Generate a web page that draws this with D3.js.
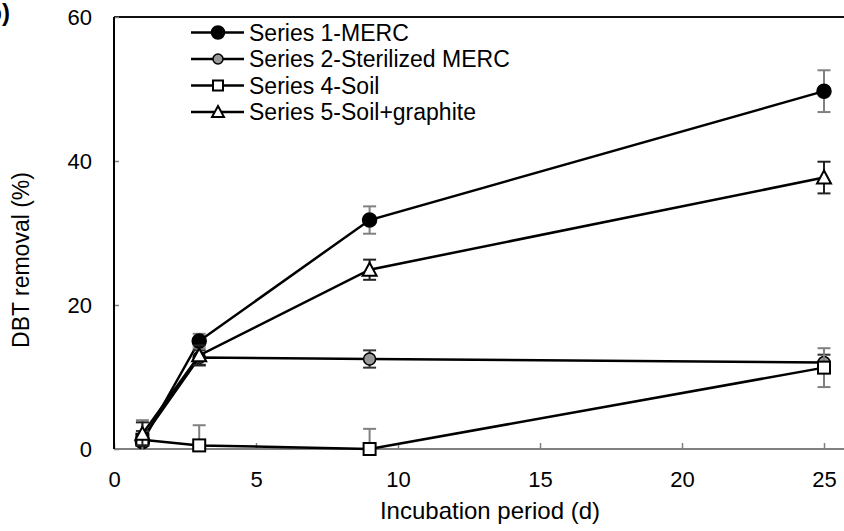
<!DOCTYPE html>
<html><head><meta charset="utf-8">
<script src="https://cdn.jsdelivr.net/npm/d3@7"></script>
<style>body{margin:0;background:#fff}svg{display:block;font-family:"Liberation Sans",Arial,sans-serif}</style>
</head><body><svg id="c" width="844" height="531"></svg>
<script>
const days = [1, 3, 9, 25];
const seriesNames = ["Series 1-MERC", "Series 2-Sterilized MERC", "Series 4-Soil", "Series 5-Soil+graphite"];
const s1 = [1.0, 15.0, 31.8, 49.7];
const s1err = [1.0, 1.0, 1.9, 2.9];
const s2 = [1.5, 12.7, 12.5, 12.0];
const s2err = [1.0, 1.0, 1.2, 1.1];
const s4 = [1.3, 0.5, 0.0, 11.3];
const s4err = [2.7, 2.8, 2.8, 2.7];
const s5 = [2.1, 13.0, 24.9, 37.7];
const s5err = [1.6, 1.4, 1.4, 2.2];
const xTicks = [0, 5, 10, 15, 20, 25];
const yTicks = [0, 20, 40, 60];

const svg = d3.select("#c");
const x = d3.scaleLinear().domain([0, 25]).range([114, 824]);
const y = d3.scaleLinear().domain([0, 60]).range([449, 17]);

svg.append("clipPath").attr("id", "plotclip").append("rect")
  .attr("x", 0).attr("y", y(60)).attr("width", 844).attr("height", y(0) - y(60) + 1);

// bottom axis (gray, ticks inside)
const xa = svg.append("g").attr("transform", `translate(0,${y(0)})`)
  .call(d3.axisBottom(x).tickValues(xTicks).tickSizeInner(-6).tickSizeOuter(0).tickPadding(0).tickFormat(d3.format("d")));
xa.select(".domain").remove();
xa.append("line").attr("x1", x(0)).attr("x2", 844).attr("y1", 0).attr("y2", 0).attr("stroke", "#808080").attr("stroke-width", 2);
xa.selectAll(".tick line").attr("stroke", "#808080").attr("stroke-width", 1.5);
xa.selectAll(".tick text").attr("fill", "#000").attr("font-size", 22).attr("dy", null).attr("y", 38);

// top frame line
svg.append("line").attr("x1", x(0)).attr("x2", 844).attr("y1", y(60)).attr("y2", y(60)).attr("stroke", "#111").attr("stroke-width", 2);

// left axis
const ya = svg.append("g").attr("transform", `translate(${x(0)},0)`)
  .call(d3.axisLeft(y).tickValues(yTicks).tickSizeInner(-5).tickSizeOuter(0).tickPadding(0));
ya.select(".domain").remove();
ya.append("line").attr("x1", 0).attr("x2", 0).attr("y1", y(60)).attr("y2", y(0)).attr("stroke", "#000").attr("stroke-width", 2);
ya.selectAll(".tick line").attr("stroke", "#808080").attr("stroke-width", 1.5);
ya.selectAll(".tick text").attr("fill", "#000").attr("font-size", 22).attr("x", -22).attr("dy", "0.35em");

// axis titles
svg.append("text").attr("x", 490).attr("y", 519).attr("text-anchor", "middle").attr("font-size", 24).text("Incubation period (d)");
svg.append("text").attr("transform", "translate(29,260) rotate(-90)").attr("text-anchor", "middle").attr("font-size", 23).text("DBT removal (%)");
svg.append("text").attr("x", 10).attr("y", 21).attr("text-anchor", "end").attr("font-size", 24).attr("font-weight", "bold").text("b)");

const series = [
  {vals: s1, err: s1err, shape: "circle", fill: "#000", r: 7, ec: "#808080"},
  {vals: s2, err: s2err, shape: "circle", fill: "#999", r: 6, ec: "#333"},
  {vals: s4, err: s4err, shape: "square", fill: "#fff", r: 6, ec: "#808080"},
  {vals: s5, err: s5err, shape: "triangle", fill: "#fff", r: 7, ec: "#222"}
];

const line = d3.line().x((d, i) => x(days[i])).y(d => y(d));

function drawMarker(g, shape, cx, cy, r, fill) {
  if (shape === "circle") {
    g.append("circle").attr("cx", cx).attr("cy", cy).attr("r", r).attr("fill", fill).attr("stroke", "#000").attr("stroke-width", 1.5);
  } else if (shape === "square") {
    g.append("rect").attr("x", cx - r).attr("y", cy - r).attr("width", 2 * r).attr("height", 2 * r).attr("fill", fill).attr("stroke", "#000").attr("stroke-width", 2);
  } else {
    g.append("path").attr("d", `M${cx},${cy - r}L${cx + r},${cy + r * 0.85}L${cx - r},${cy + r * 0.85}Z`).attr("fill", fill).attr("stroke", "#000").attr("stroke-width", 2).attr("stroke-linejoin", "miter");
  }
}

series.forEach(s => {
  const g = svg.append("g");
  g.append("path").datum(s.vals).attr("d", line).attr("fill", "none").attr("stroke", "#000").attr("stroke-width", 2.5);
  s.vals.forEach((v, i) => {
    const cx = x(days[i]);
    const eg = g.append("g").attr("stroke", s.ec).attr("stroke-width", 2).attr("clip-path", "url(#plotclip)");
    eg.append("line").attr("x1", cx).attr("x2", cx).attr("y1", y(v + s.err[i])).attr("y2", y(v - s.err[i]));
    eg.append("line").attr("x1", cx - 6.5).attr("x2", cx + 6.5).attr("y1", y(v + s.err[i])).attr("y2", y(v + s.err[i]));
    eg.append("line").attr("x1", cx - 6.5).attr("x2", cx + 6.5).attr("y1", y(v - s.err[i])).attr("y2", y(v - s.err[i]));
  });
  s.vals.forEach((v, i) => drawMarker(g, s.shape, x(days[i]), y(v), s.r, s.fill));
});

// legend
const legY = [32.5, 59, 85.5, 112];
const legR = [6.5, 5, 5, 6];
seriesNames.forEach((name, i) => {
  const g = svg.append("g");
  g.append("line").attr("x1", 191).attr("x2", 244).attr("y1", legY[i]).attr("y2", legY[i]).attr("stroke", "#000").attr("stroke-width", 2.5);
  drawMarker(g, series[i].shape, 218, legY[i], legR[i], series[i].fill);
  g.append("text").attr("x", 249).attr("y", legY[i]).attr("dy", "0.35em").attr("font-size", 23).text(name);
});
</script></body></html>
